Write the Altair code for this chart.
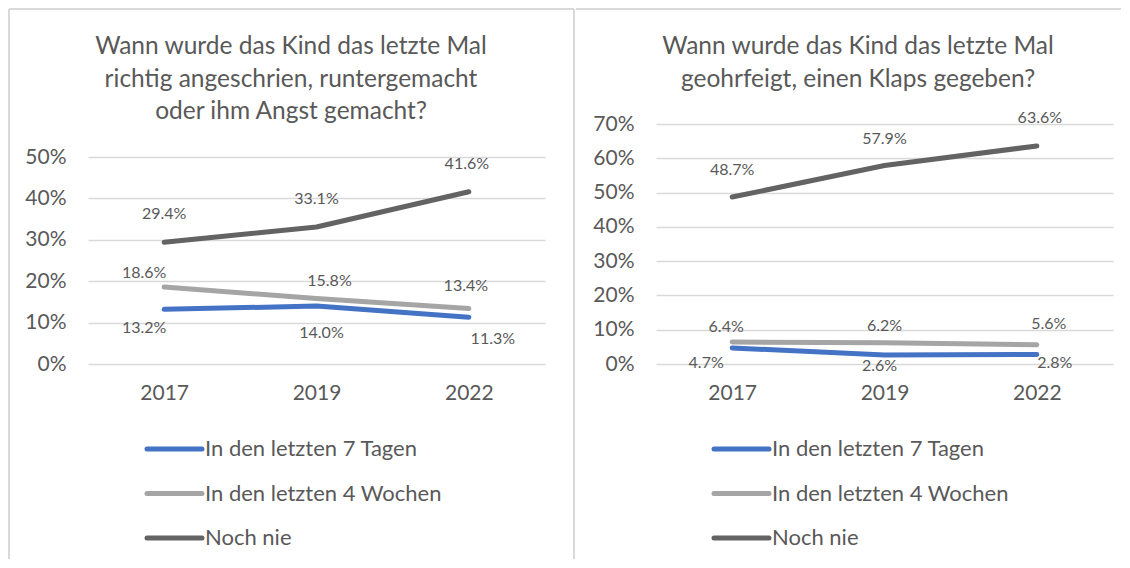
import altair as alt
import pandas as pd

FONT = "Lato"
TXT = "#595959"
GRID = "#D9D9D9"

years = ["2017", "2019", "2022"]
series = ["In den letzten 7 Tagen", "In den letzten 4 Wochen", "Noch nie"]
colors = ["#4472C4", "#A5A5A5", "#636363"]

left_title = ["Wann wurde das Kind das letzte Mal",
              "richtig angeschrien, runtergemacht",
              "oder ihm Angst gemacht?"]
left_7tage = [13.2, 14.0, 11.3]
left_4wochen = [18.6, 15.8, 13.4]
left_nie = [29.4, 33.1, 41.6]
left_ticks = [0, 10, 20, 30, 40, 50]

right_title = ["Wann wurde das Kind das letzte Mal",
               "geohrfeigt, einen Klaps gegeben?"]
right_7tage = [4.7, 2.6, 2.8]
right_4wochen = [6.4, 6.2, 5.6]
right_nie = [48.7, 57.9, 63.6]
right_ticks = [0, 10, 20, 30, 40, 50, 60, 70]

# manual data-label offsets in pixels (series x year)
left_dx = [[-20, 5, 24], [-20, 13, -3], [0, 0, -2]]
left_dy = [[19, 27, 22], [-14, -18, -23], [-28, -28, -28]]
right_dx = [[-26, -5, 18], [-6, 0, 12], [0, 0, 3]]
right_dy = [[15, 11, 9], [-15, -17, -21], [-27, -26, -28]]

W, H = 457, 240


def panel(vals, dx, dy, title_lines, ticks, ytop, geo):
    rows = []
    for si, s in enumerate(series):
        for yi, yr in enumerate(years):
            rows.append(dict(year=yr, series=s, value=vals[si][yi]))
    df = pd.DataFrame(rows)
    df["lab"] = df["value"].map(lambda v: f"{v:.1f}%")
    one = pd.DataFrame({"k": [0]})
    legdf = pd.DataFrame({"series": series})

    xsc = alt.Scale(type="point", domain=years, padding=0.5)
    ysc = alt.Scale(domain=[ticks[0], ticks[-1]], nice=False, zero=True, range=[H, ytop])
    csc = alt.Scale(domain=series, range=colors)

    xenc = alt.X("year:O", scale=xsc, title=None,
                 axis=alt.Axis(labelAngle=0, domain=False, ticks=False, tickSize=0,
                               labelFont=FONT, labelFontSize=21, labelColor=TXT,
                               labelPadding=18, grid=False))

    lines = alt.Chart(df).mark_line(strokeWidth=5, strokeCap="round", strokeJoin="round").encode(
        x=xenc,
        y=alt.Y("value:Q", scale=ysc, title=None,
                axis=alt.Axis(values=ticks, labelExpr="datum.value + '%'", domain=False,
                              ticks=False, tickSize=0, labelFont=FONT, labelFontSize=21,
                              labelColor=TXT, labelPadding=22, gridColor=GRID,
                              gridWidth=1.5)),
        color=alt.Color("series:N", scale=csc, legend=None),
    )

    labels = []
    for si, s in enumerate(series):
        for yi, yr in enumerate(years):
            d = df[(df["series"] == s) & (df["year"] == yr)]
            labels.append(
                alt.Chart(d).mark_text(font=FONT, fontSize=16, color=TXT, baseline="middle",
                                       align="center", dx=dx[si][yi], dy=dy[si][yi]).encode(
                    x=xenc,
                    y=alt.Y("value:Q", scale=ysc, axis=None),
                    text="lab:N",
                )
            )

    ly = alt.Y("series:N", scale=alt.Scale(type="point", domain=series,
                                          range=[geo["ly0"], geo["ly0"] + 89], padding=0),
               axis=None)
    legrule = alt.Chart(legdf).mark_rule(strokeWidth=5, strokeCap="round").encode(
        x=alt.value(geo["lx0"]), x2=alt.value(geo["lx0"] + 55), y=ly,
        color=alt.Color("series:N", scale=csc, legend=None),
    )
    legtext = alt.Chart(legdf).mark_text(font=FONT, fontSize=22, color=TXT,
                                         align="left", baseline="middle").encode(
        x=alt.value(geo["lx0"] + 58), y=ly, text="series:N",
    )

    title = alt.Chart(one).mark_text(font=FONT, fontSize=24.5, color=TXT, align="center",
                                     baseline="alphabetic", lineHeight=32.5).encode(
        x=alt.value(geo["tx"]), y=alt.value(geo["ty"]), text=alt.value(title_lines),
    )

    borders = []
    for (x1, x2, y1, y2) in geo["borders"]:
        borders.append(
            alt.Chart(one).mark_rule(color=GRID, strokeWidth=2).encode(
                x=alt.value(x1), x2=alt.value(x2), y=alt.value(y1), y2=alt.value(y2))
        )

    return alt.layer(*borders, title, lines, *labels, legrule, legtext).resolve_scale(
        y="independent").properties(width=W, height=H)


left = panel([left_7tage, left_4wochen, left_nie], left_dx, left_dy, left_title,
             left_ticks, 33,
             dict(ly0=325, lx0=59, tx=203, ty=-70,
                  borders=[(-79, -79, -115, 435), (-79, 486, -115, -115),
                           (486, 486, -115, 435)]))
right = panel([right_7tage, right_4wochen, right_nie], right_dx, right_dy, right_title,
              right_ticks, 0,
              dict(ly0=325, lx0=58, tx=202, ty=-70,
                   borders=[(-80, 465, -115, -115)]))

chart = alt.hconcat(left, right, spacing=0).configure_view(stroke=None).properties(
    padding=0
)

chart.save("out.html", embed_options={"renderer": "svg", "actions": False})
